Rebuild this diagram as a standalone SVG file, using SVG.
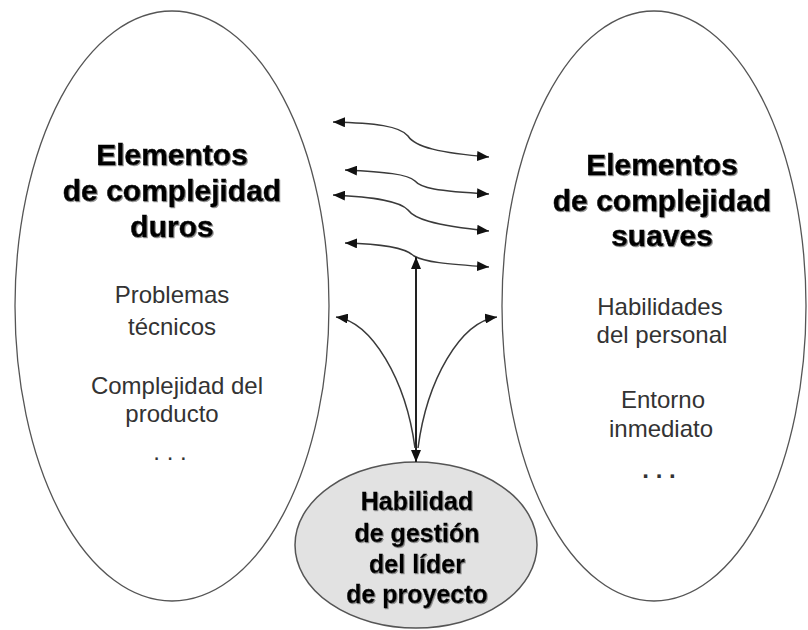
<svg xmlns="http://www.w3.org/2000/svg" width="808" height="630" viewBox="0 0 808 630">
  <defs>
    <style>
      .oval { fill: #ffffff; stroke: #555555; stroke-width: 1.3; }
      .gray { fill: #e2e2e2; stroke: #555555; stroke-width: 1.5; }
      .title { font-family: "Liberation Sans", Arial, sans-serif; font-weight: bold; font-size: 30px; fill: #000; stroke: #000; stroke-width: 0.5; text-anchor: middle; filter: url(#shadow); }
      .ctitle { font-family: "Liberation Sans", Arial, sans-serif; font-weight: bold; font-size: 25px; fill: #000; stroke: #000; stroke-width: 0.3; text-anchor: middle; filter: url(#shadow); }
      .body { font-family: "Liberation Sans", Arial, sans-serif; font-size: 24px; fill: #333; text-anchor: middle; }
      .dots { font-family: "Liberation Sans", Arial, sans-serif; font-size: 24px; fill: #333; text-anchor: middle; }
      .conn { fill: none; stroke: #3a3a3a; stroke-width: 1.5; marker-start: url(#ah); marker-end: url(#ah); }
      .one { fill: none; stroke: #3a3a3a; stroke-width: 1.5; marker-end: url(#ah); }
      .vert { fill: none; stroke: #222; stroke-width: 2; marker-start: url(#ah); marker-end: url(#ah); }
    </style>
    <marker id="ah" viewBox="0 0 12 10" refX="12" refY="5" markerWidth="12" markerHeight="10" markerUnits="userSpaceOnUse" orient="auto-start-reverse">
      <path d="M0,0 L12,5 L0,10 z" fill="#111"/>
    </marker>
    <filter id="shadow" x="-5%" y="-20%" width="110%" height="140%">
      <feDropShadow dx="1" dy="1" stdDeviation="0.6" flood-color="#777" flood-opacity="0.8"/>
    </filter>
  </defs>

  <g id="node-hard">
    <ellipse class="oval" cx="172" cy="306" rx="157" ry="295"/>
    <text class="title" x="172" y="165">Elementos</text>
    <text class="title" x="172" y="201">de complejidad</text>
    <text class="title" x="172" y="237">duros</text>
    <text class="body" x="172" y="303">Problemas</text>
    <text class="body" x="172" y="335">técnicos</text>
    <text class="body" x="177" y="394">Complejidad del</text>
    <text class="body" x="172" y="422">producto</text>
    <text class="dots" x="170" y="460">. . .</text>
  </g>

  <g id="node-soft">
    <ellipse class="oval" cx="654" cy="306" rx="152" ry="295"/>
    <text class="title" x="662" y="175">Elementos</text>
    <text class="title" x="662" y="211">de complejidad</text>
    <text class="title" x="662" y="246">suaves</text>
    <text class="body" x="660" y="315">Habilidades</text>
    <text class="body" x="662" y="343">del personal</text>
    <text class="body" x="663" y="408">Entorno</text>
    <text class="body" x="661" y="437">inmediato</text>
    <text class="dots" x="659" y="478" style="font-weight:bold">. . .</text>
  </g>

  <g id="node-leader">
    <ellipse class="gray" cx="416" cy="545" rx="121" ry="83"/>
    <text class="ctitle" x="417" y="510">Habilidad</text>
    <text class="ctitle" x="417" y="542">de gestión</text>
    <text class="ctitle" x="417" y="573">del líder</text>
    <text class="ctitle" x="417" y="603">de proyecto</text>
  </g>

  <g id="connectors">
    <path class="conn" d="M 333 122 C 375 123, 400 126, 408 136 C 415 147, 440 153, 489 157"/>
    <path class="conn" d="M 345 170 C 385 172, 408 174, 415 181 C 421 188, 435 191, 489 194"/>
    <path class="conn" d="M 333 195 C 375 197, 400 201, 408 210 C 414 218, 430 225, 489 231"/>
    <path class="conn" d="M 345 243 C 380 244, 405 247, 414 256 C 425 262, 445 264, 489 267"/>
    <path class="vert" d="M 416 257 L 416 462"/>
    <path class="one" d="M 415 448 C 406 380, 372 322, 336 317"/>
    <path class="one" d="M 418 448 C 427 380, 460 322, 497 317"/>
  </g>
</svg>
